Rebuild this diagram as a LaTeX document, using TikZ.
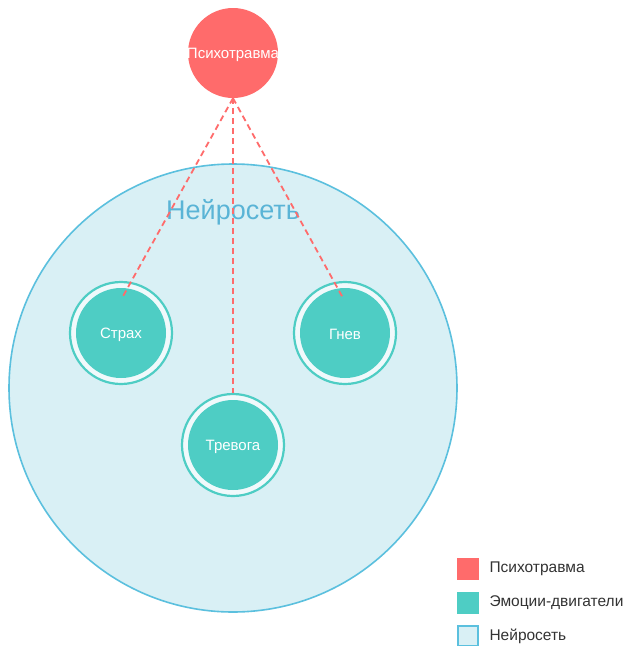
\documentclass[tikz,border=0pt]{standalone}
\usepackage{fontspec}
\setmainfont{Liberation Sans}
\definecolor{trauma}{HTML}{FF6B6B}
\definecolor{emo}{HTML}{4ECDC4}
\definecolor{netfill}{HTML}{D9F0F5}
\definecolor{netline}{HTML}{5BC0DE}
\definecolor{nettext}{HTML}{5AB4D6}
\begin{document}
\begin{tikzpicture}[x=1pt,y=-1pt,
  emoring/.style={circle,draw=emo,line width=2.2pt,fill=white!60!netfill,minimum size=102pt,inner sep=0pt},
  emocore/.style={circle,fill=emo,minimum size=90pt,inner sep=0pt},
  emotext/.style={text=white,font=\fontsize{15}{17}\selectfont,yshift=-1.5pt},
  link/.style={trauma,line width=1.8pt,dash pattern=on 6pt off 4pt},
  legtext/.style={anchor=west,font=\fontsize{15.5}{18}\selectfont,text=black!80},
  legbox/.style={minimum size=22pt,inner sep=0pt}]
\useasboundingbox (0,0) rectangle (628,646);
\fill[white] (0,0) rectangle (628,646);
% network
\node[circle,draw=netline,line width=1.6pt,fill=netfill,minimum size=448pt,inner sep=0pt] (net) at (233,388) {};
\node[text=nettext,font=\fontsize{27}{30}\selectfont] (netlabel) at (233,212) {Нейросеть};
% trauma
\node[circle,fill=trauma,minimum size=90pt,inner sep=0pt] (trauma) at (233,53) {};
\node[emotext] (traumalabel) at (trauma) {Психотравма};
% emotions
\node[emoring] (r1) at (121,333) {};
\node[emocore] (strah) at (121,333) {};
\node[emotext] (strahlabel) at (strah) {Страх};
\node[emoring] (r2) at (345,333) {};
\node[emocore] (gnev) at (345,333) {};
\node[emotext] (gnevlabel) at (gnev) {Гнев};
\node[emoring] (r3) at (233,445) {};
\node[emocore] (trev) at (233,445) {};
\node[emotext] (trevlabel) at (trev) {Тревога};
% links
\coordinate (e1) at (122,298);
\coordinate (e2) at (343,298);
\draw[link] (trauma.south) -- (e1);
\draw[link] (trauma.south) -- (e2);
\draw[link] (trauma.south) -- (r3.north);
% legend
\node[legbox,fill=trauma] (l1) at (468,569) {};
\node[legtext] (t1) at (486,569) {Психотравма};
\node[legbox,fill=emo] (l2) at (468,603) {};
\node[legtext] (t2) at (486,603) {Эмоции-двигатели};
\node[legbox,fill=netfill,draw=netline,line width=1.6pt,minimum size=20pt] (l3) at (468,636) {};
\node[legtext] (t3) at (486,636) {Нейросеть};
\end{tikzpicture}
\end{document}
